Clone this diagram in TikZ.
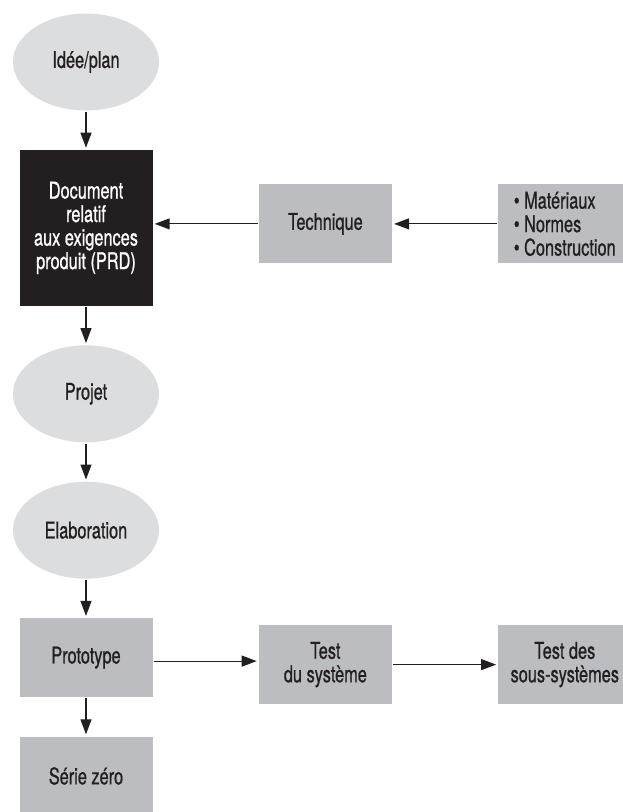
\documentclass[tikz,border=0pt]{standalone}
\usepackage{fontspec}
\setmainfont{TeX Gyre Heros}[FakeStretch=0.71,FakeBold=0.8]
\usetikzlibrary{positioning,shapes.geometric,arrows.meta}
\definecolor{ovalgray}{HTML}{DCDDDE}
\definecolor{boxgray}{HTML}{BCBDC0}
\definecolor{inkdark}{HTML}{231F20}

\begin{document}
\begin{tikzpicture}[node distance={39pt and 106pt},
    every node/.style = {font=\fontsize{23}{23.5}\selectfont, text=inkdark, align=center},
    oval/.style = {ellipse, fill=ovalgray, minimum width=146pt, minimum height=97pt, inner sep=0pt},
    box/.style = {rectangle, fill=boxgray, minimum width=133pt, minimum height=79pt, inner sep=0pt},
    dark/.style = {rectangle, fill=inkdark, text=white, minimum width=133pt, minimum height=156pt, inner sep=0pt},
    arr/.style = {-{Triangle[length=15pt,width=11pt]}, draw=inkdark, line width=1.1pt, shorten >=2pt, shorten <=1pt}]
    \useasboundingbox (0,0) rectangle (623pt,-812pt);
    \clip (0,0) rectangle (623pt,-812pt);
    \node[oval] (1) at (86pt,-62pt) {Idée/plan};
    \node[dark] (2) [below=of 1] {Document\\relatif\\aux exigences\\produit (PRD)};
    \node[box] (3) [right=of 2, yshift=4pt] {Technique};
    \node[box, align=left] (4) [right=of 3] {• Matériaux\\• Normes\\• Construction};
    \node[oval] (5) [below=of 2] {Projet};
    \node[oval] (6) [below=of 5] {Elaboration};
    \node[box] (7) [below=of 6] {Prototype};
    \node[box] (8) [below=of 7] {Série zéro};
    \node[box] (9) [right=of 7, yshift=-7pt] {Test\\du système};
    \node[box] (10) [right=of 9] {Test des\\sous-systèmes};
    \draw[arr] (1) -- (2);
    \draw[arr] (3.west) -- (3.west -| 2.east);
    \draw[arr] (4.west) -- (3.east);
    \draw[arr] (2) -- (5);
    \draw[arr] (5) -- (6);
    \draw[arr] (6) -- (7);
    \draw[arr] (7) -- (8);
    \draw[arr] ([yshift=-3.5pt]7.east) -- ([yshift=3.5pt]9.west);
    \draw[arr] (9) -- (10);
    \end{tikzpicture}
\end{document}
